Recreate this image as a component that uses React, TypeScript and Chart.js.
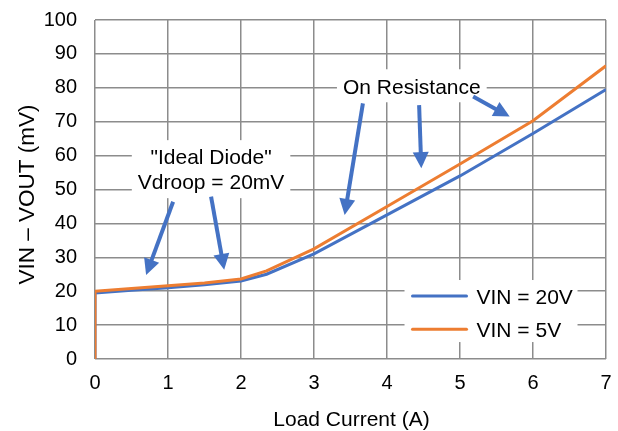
import React, { useEffect, useRef } from 'react';
import { Chart, registerables } from 'chart.js';

Chart.register(...registerables);

// ---- data ----
const loadCurrent = [0, 0, 0.5, 1, 1.5, 2, 2.35, 3, 4, 5, 6, 7];
const vin20 = [0, 19.5, 20.3, 21, 21.9, 23, 25, 31, 42.5, 54, 66.5, 79.5];
const vin5 = [0, 20, 20.8, 21.6, 22.4, 23.6, 26, 32.5, 45, 57.5, 70.3, 86.5];
const seriesLabels = ['VIN = 20V', 'VIN = 5V'];
const seriesColors = ['#4472C4', '#ED7D31'];
const xTitle = 'Load Current (A)';
const yTitle = 'VIN \u2013 VOUT (mV)';

// annotation anchors in data units (A, mV)
const textNotes = [
  { lines: ['On Resistance'], x: 4.34, y: 80.6 },
  { lines: ['"Ideal Diode"', 'Vdroop = 20mV'], x: 1.59, y: 56.0 },
];
const arrowFrom = [[1.07, 46.4], [1.59, 47.9], [3.67, 75.4], [4.44, 74.9], [5.18, 77.4]];
const arrowTo = [[0.70, 24.8], [1.77, 26.3], [3.42, 42.5], [4.47, 56.3], [5.68, 71.5]];
const legendBox = { x0: 4.24, x1: 6.61, y0: 23.3, y1: 5.0, rows: [18.6, 8.8] };

const FONT = '"Liberation Sans", Arial, sans-serif';
const FS = 20;
const FA = 21;

const annotationPlugin = {
  id: 'annotations',
  beforeDatasetsDraw(chart: any) {
    const { ctx, scales } = chart;
    const xs = scales.x, ys = scales.y;
    ctx.save();
    ctx.font = `${FA}px ${FONT}`;
    ctx.fillStyle = '#ffffff';
    textNotes.forEach((n) => {
      const cx = xs.getPixelForValue(n.x);
      const cy = ys.getPixelForValue(n.y);
      const w = Math.max(...n.lines.map((l) => ctx.measureText(l).width)) + 12;
      const h = n.lines.length * 25 + 8;
      ctx.fillRect(cx - w / 2, cy - h / 2, w, h);
    });
    const lx0 = xs.getPixelForValue(legendBox.x0), lx1 = xs.getPixelForValue(legendBox.x1);
    const ly0 = ys.getPixelForValue(legendBox.y0), ly1 = ys.getPixelForValue(legendBox.y1);
    ctx.fillRect(lx0, ly0, lx1 - lx0, ly1 - ly0);
    ctx.restore();
  },
  afterDatasetsDraw(chart: any) {
    const { ctx, scales, chartArea } = chart;
    const xs = scales.x, ys = scales.y;
    ctx.save();
    // texts
    ctx.font = `${FA}px ${FONT}`;
    ctx.fillStyle = '#000000';
    ctx.textAlign = 'center';
    ctx.textBaseline = 'middle';
    textNotes.forEach((n) => {
      const cx = xs.getPixelForValue(n.x);
      const cy = ys.getPixelForValue(n.y);
      const start = cy - ((n.lines.length - 1) * 25) / 2;
      n.lines.forEach((l, i) => ctx.fillText(l, cx, start + i * 25 + 2));
    });
    // arrows
    const col = '#4472C4';
    arrowFrom.forEach((f, i) => {
      const t = arrowTo[i];
      const x1 = xs.getPixelForValue(f[0]), y1 = ys.getPixelForValue(f[1]);
      const x2 = xs.getPixelForValue(t[0]), y2 = ys.getPixelForValue(t[1]);
      const dx = x2 - x1, dy = y2 - y1;
      const len = Math.hypot(dx, dy);
      const ux = dx / len, uy = dy / len;
      const headL = 16, headW = 8;
      const bx = x2 - ux * headL, by = y2 - uy * headL;
      ctx.strokeStyle = col;
      ctx.lineWidth = 4;
      ctx.lineCap = 'butt';
      ctx.beginPath();
      ctx.moveTo(x1, y1);
      ctx.lineTo(bx + ux * 1, by + uy * 1);
      ctx.stroke();
      ctx.fillStyle = col;
      ctx.beginPath();
      ctx.moveTo(x2, y2);
      ctx.lineTo(bx - uy * headW, by + ux * headW);
      ctx.lineTo(bx + uy * headW, by - ux * headW);
      ctx.closePath();
      ctx.fill();
    });
    // legend
    const lx0 = xs.getPixelForValue(legendBox.x0);
    legendBox.rows.forEach((ry, i) => {
      const py = ys.getPixelForValue(ry);
      ctx.strokeStyle = seriesColors[i];
      ctx.lineWidth = 3;
      ctx.lineCap = 'round';
      ctx.beginPath();
      ctx.moveTo(lx0 + 8, py);
      ctx.lineTo(lx0 + 62, py);
      ctx.stroke();
      ctx.fillStyle = '#000000';
      ctx.textAlign = 'left';
      ctx.fillText(seriesLabels[i], lx0 + 72, py + 2);
    });
    // axis titles
    ctx.textAlign = 'center';
    ctx.textBaseline = 'middle';
    ctx.fillStyle = '#000000';
    ctx.font = `${FA}px ${FONT}`;
    ctx.fillText(xTitle, (chartArea.left + chartArea.right) / 2 + 1, 420);
    ctx.save();
    ctx.font = `22.5px ${FONT}`;
    ctx.translate(chartArea.left - 67, (chartArea.top + chartArea.bottom) / 2 + 5);
    ctx.rotate(-Math.PI / 2);
    ctx.fillText(yTitle, 0, 0);
    ctx.restore();
    ctx.restore();
  },
};

export default function App() {
  const ref = useRef<HTMLCanvasElement>(null);
  useEffect(() => {
    if (!ref.current) return;
    const mk = (ys: number[]) => loadCurrent.map((x, i) => ({ x, y: ys[i] }));
    const chart = new Chart(ref.current, {
      type: 'line',
      data: {
        datasets: [
          { label: seriesLabels[0], data: mk(vin20), borderColor: seriesColors[0], backgroundColor: seriesColors[0], borderWidth: 3, pointRadius: 0, tension: 0, order: 1 },
          { label: seriesLabels[1], data: mk(vin5), borderColor: seriesColors[1], backgroundColor: seriesColors[1], borderWidth: 3, pointRadius: 0, tension: 0, order: 0 },
        ],
      },
      options: {
        responsive: false,
        animation: false,
        devicePixelRatio: 1,
        layout: { padding: { top: 20, right: 12, left: 0, bottom: 0 } },
        plugins: { legend: { display: false }, tooltip: { enabled: false } },
        scales: {
          x: {
            type: 'linear',
            min: 0,
            max: 7,
            ticks: { stepSize: 1, padding: 12, color: '#000', font: { family: FONT, size: FS } },
            grid: { color: '#8c8c8c', lineWidth: 1.5, drawTicks: false },
            border: { display: false },
            title: { display: false },
            afterFit: (s: any) => { s.height = 72; s.paddingLeft = 0; s.paddingRight = 0; },
          },
          y: {
            min: 0,
            max: 100,
            ticks: { stepSize: 10, padding: 18, color: '#000', font: { family: FONT, size: FS } },
            grid: { color: '#8c8c8c', lineWidth: 1.5, drawTicks: false },
            border: { display: false },
            title: { display: false },
            afterFit: (s: any) => { s.width = 95; s.paddingTop = 0; s.paddingBottom = 0; },
          },
        },
      },
      plugins: [annotationPlugin],
    } as any);
    return () => chart.destroy();
  }, []);
  return (
    <div style={{ position: 'fixed', left: 0, top: 0, width: 618, height: 431, background: '#fff' }}>
      <canvas ref={ref} width={618} height={431} style={{ display: 'block' }} />
    </div>
  );
}
